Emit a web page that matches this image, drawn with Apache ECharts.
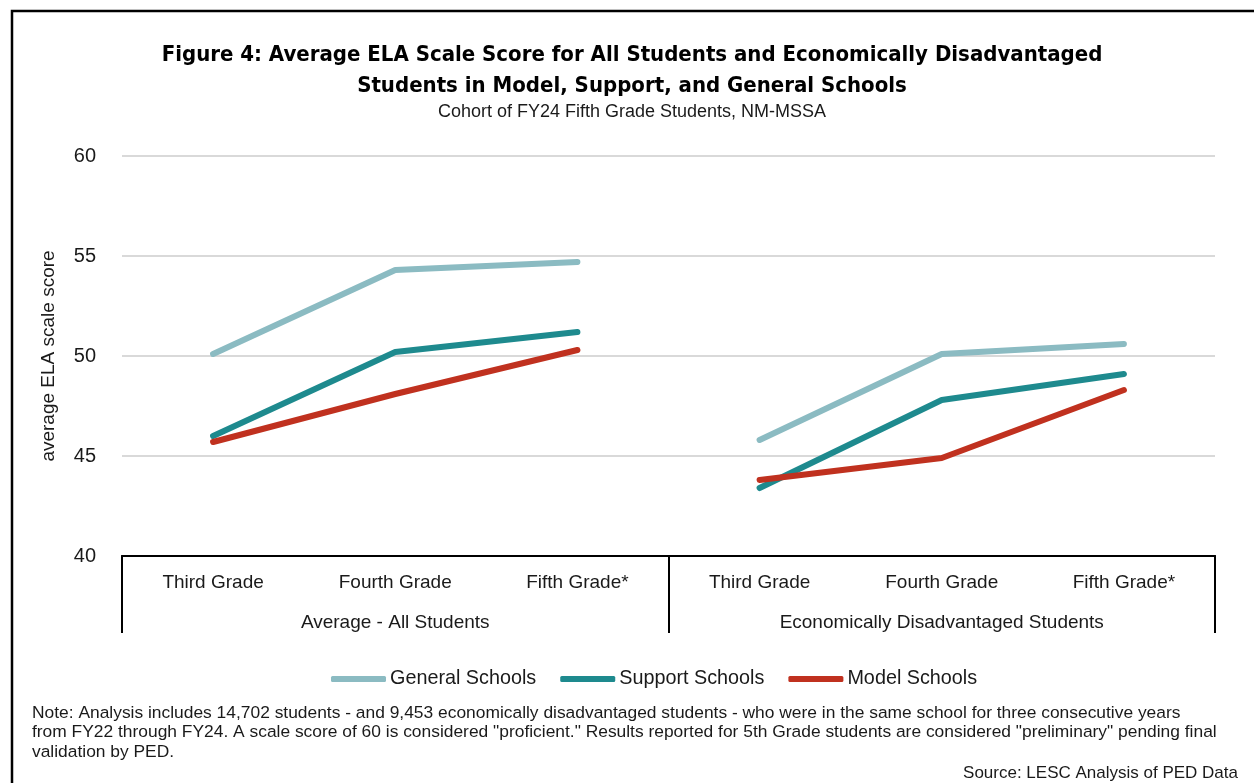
<!DOCTYPE html>
<html>
<head>
<meta charset="utf-8">
<script src="https://cdn.jsdelivr.net/npm/echarts@6/dist/echarts.min.js"></script>
<style>
  html, body { margin: 0; padding: 0; background: #fff; }
  #chart { width: 1254px; height: 783px; }
</style>
</head>
<body>
<div id="chart"></div>
<script>
// Grade levels along the lower axis, repeated for each student group
const grades = ['Third Grade', 'Fourth Grade', 'Fifth Grade*', 'Third Grade', 'Fourth Grade', 'Fifth Grade*'];
const groups = ['Average - All Students', 'Economically Disadvantaged Students'];

// Average ELA scale scores: [third, fourth, fifth] for all students, then economically disadvantaged
const generalAll = [50.1, 54.3, 54.7];
const generalEcon = [45.8, 50.1, 50.6];
const supportAll = [46.0, 50.2, 51.2];
const supportEcon = [43.4, 47.8, 49.1];
const modelAll = [45.7, 48.1, 50.3];
const modelEcon = [43.8, 44.9, 48.3];

const yTicks = { min: 40, max: 60, interval: 5 };

const colors = {
  'General Schools': '#8bbbc2',
  'Support Schools': '#1e8a8e',
  'Model Schools': '#c0311f'
};

const textFont = "'Liberation Sans', Arial, sans-serif";
const titleFont = "'Liberation Sans Narrow', 'DejaVu Sans Condensed', 'Liberation Sans', sans-serif";

// each group is its own segment so the lines break between student groups
function firstGroup(v) { return [v[0], v[1], v[2], '-', '-', '-']; }
function secondGroup(v) { return ['-', '-', '-', v[0], v[1], v[2]]; }

function lineSeries(name, data) {
  return {
    name: name,
    type: 'line',
    data: data,
    showSymbol: false,
    symbol: 'none',
    connectNulls: false,
    lineStyle: { color: colors[name], width: 6, cap: 'round', join: 'round' },
    itemStyle: { color: colors[name] },
    emphasis: { disabled: true },
    z: 3
  };
}

const series = [
  lineSeries('General Schools', firstGroup(generalAll)),
  lineSeries('General Schools', secondGroup(generalEcon)),
  lineSeries('Support Schools', firstGroup(supportAll)),
  lineSeries('Support Schools', secondGroup(supportEcon)),
  lineSeries('Model Schools', firstGroup(modelAll)),
  lineSeries('Model Schools', secondGroup(modelEcon))
];

const noteText =
  'Note: Analysis includes 14,702 students - and 9,453 economically disadvantaged students - who were in the same school for three consecutive years\n' +
  'from FY22 through FY24. A scale score of 60 is considered "proficient." Results reported for 5th Grade students are considered "preliminary" pending final\n' +
  'validation by PED.';

const chart = echarts.init(document.getElementById('chart'), null, { renderer: 'canvas' });

chart.setOption({
  backgroundColor: '#ffffff',
  animation: false,
  title: [
    {
      text: 'Figure 4: Average ELA Scale Score for All Students and Economically Disadvantaged\nStudents in Model, Support, and General Schools',
      left: 632,
      top: 40,
      padding: 0,
      textAlign: 'center',
      textStyle: { fontFamily: titleFont, fontWeight: 'bold', fontSize: 22, lineHeight: 31, color: '#000' }
    },
    {
      text: 'Cohort of FY24 Fifth Grade Students, NM-MSSA',
      left: 632,
      top: 103,
      padding: 0,
      textAlign: 'center',
      textStyle: { fontFamily: textFont, fontWeight: 'normal', fontSize: 18, color: '#1a1a1a' }
    }
  ],
  legend: {
    data: ['General Schools', 'Support Schools', 'Model Schools'],
    left: 326,
    top: 664,
    icon: 'roundRect',
    itemWidth: 55,
    itemHeight: 6,
    itemGap: 24,
    selectedMode: false,
    textStyle: { fontFamily: textFont, fontSize: 19.8, color: '#1a1a1a', padding: [0, 0, 0, -1] }
  },
  grid: { left: 122, right: 39, top: 156, bottom: 227, containLabel: false },
  xAxis: [
    {
      type: 'category',
      data: grades,
      position: 'bottom',
      boundaryGap: true,
      axisLine: { show: true, lineStyle: { color: '#000', width: 2 } },
      axisTick: { show: false },
      axisLabel: { margin: 17, fontFamily: textFont, fontSize: 19, color: '#1a1a1a', interval: 0 },
      splitLine: { show: false }
    },
    {
      type: 'category',
      data: groups,
      position: 'bottom',
      boundaryGap: true,
      axisLine: { show: true, lineStyle: { color: '#000', width: 2 } },
      axisTick: { show: true, interval: 0, length: 77, inside: false, lineStyle: { color: '#000', width: 2 } },
      axisLabel: { margin: 57, fontFamily: textFont, fontSize: 19, color: '#1a1a1a', interval: 0 },
      splitLine: { show: false }
    }
  ],
  yAxis: {
    type: 'value',
    min: yTicks.min,
    max: yTicks.max,
    interval: yTicks.interval,
    name: 'average ELA scale score',
    nameLocation: 'middle',
    nameGap: 64,
    nameTextStyle: { fontFamily: textFont, fontSize: 19, color: '#1a1a1a' },
    axisLine: { show: false },
    axisTick: { show: false },
    axisLabel: { margin: 26, fontFamily: textFont, fontSize: 20, color: '#1a1a1a' },
    splitLine: { show: true, lineStyle: { color: '#d9d9d9', width: 2 } }
  },
  series: series,
  graphic: [
    {
      type: 'rect',
      shape: { x: 12, y: 11, width: 1400, height: 900 },
      style: { fill: 'none', stroke: '#000', lineWidth: 2.5 },
      silent: true,
      z: 0
    },
    {
      type: 'text',
      left: 32,
      top: 703,
      style: { text: noteText, fontFamily: textFont, fontSize: 17.4, lineHeight: 19.5, fill: '#1a1a1a' },
      silent: true
    },
    {
      type: 'text',
      right: 16,
      top: 765,
      style: { text: 'Source: LESC Analysis of PED Data', fontFamily: textFont, fontSize: 17, fill: '#1a1a1a' },
      silent: true
    }
  ]
});
</script>
</body>
</html>
